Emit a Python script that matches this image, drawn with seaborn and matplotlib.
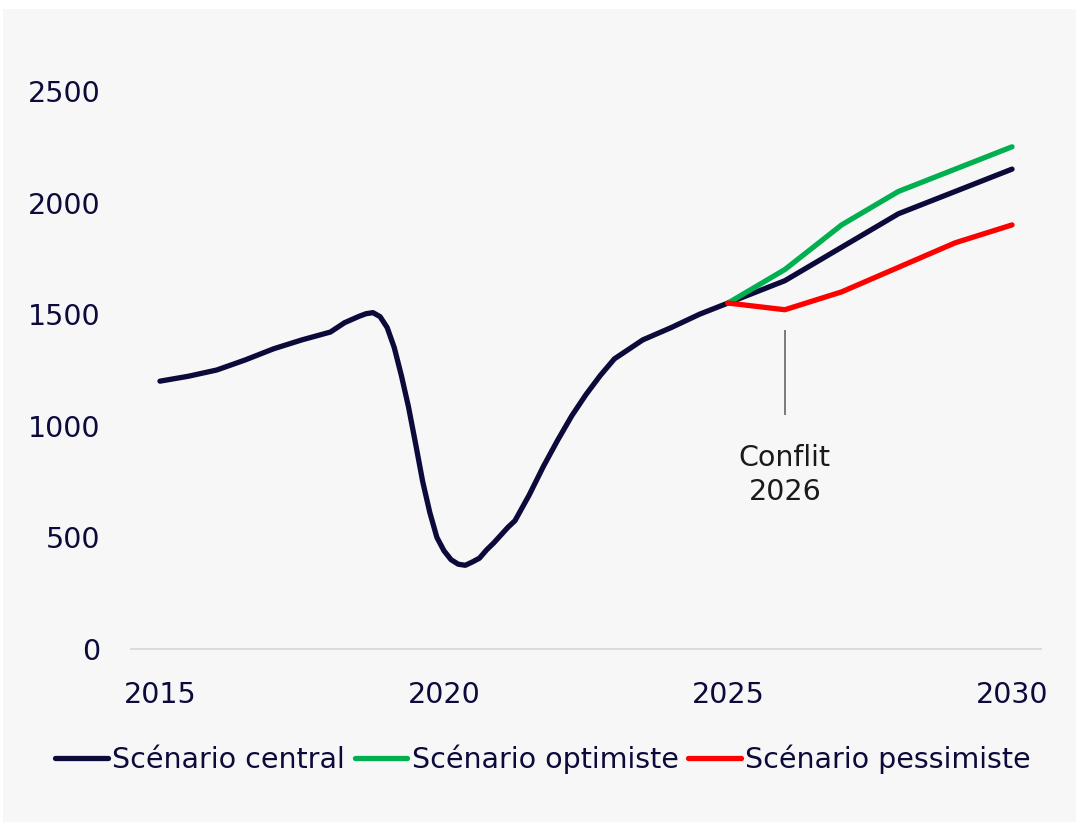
import pandas as pd
import seaborn as sns
import matplotlib.pyplot as plt
from matplotlib.patches import Rectangle

# valeurs
central_years = [2015, 2015.5, 2016, 2016.5, 2017, 2017.5, 2018, 2018.25, 2018.5, 2018.625,
                 2018.75, 2018.875, 2019, 2019.125, 2019.25, 2019.375, 2019.5, 2019.625,
                 2019.75, 2019.875, 2020, 2020.125, 2020.25, 2020.375, 2020.5, 2020.625,
                 2020.75, 2020.875, 2021, 2021.125, 2021.25, 2021.5, 2021.75, 2022,
                 2022.25, 2022.5, 2022.75, 2023, 2023.5, 2024, 2024.5,
                 2025, 2026, 2027, 2028, 2029, 2030]
central_values = [1200, 1222, 1250, 1295, 1345, 1385, 1420, 1462, 1490, 1502,
                  1507, 1489, 1440, 1350, 1225, 1085, 920, 750,
                  612, 500, 440, 400, 380, 375, 390, 407,
                  444, 475, 510, 545, 575, 690, 818, 935,
                  1045, 1140, 1225, 1300, 1385, 1440, 1500,
                  1550, 1650, 1800, 1950, 2050, 2150]

scenario_years = [2025, 2026, 2027, 2028, 2029, 2030]
optimiste_values = [1550, 1700, 1900, 2050, 2150, 2250]
pessimiste_values = [1550, 1520, 1600, 1710, 1820, 1900]

labels = ["Scénario central", "Scénario optimiste", "Scénario pessimiste"]
colors = ["#0b0a3b", "#00b050", "#ff0000"]

conflict_year = 2026
conflict_line = (1050, 1430)
conflict_text = "Conflit\n2026"

x_ticks = [2015, 2020, 2025, 2030]
y_ticks = [0, 500, 1000, 1500, 2000, 2500]

df = pd.concat([
    pd.DataFrame({"annee": central_years, "valeur": central_values, "scenario": labels[0]}),
    pd.DataFrame({"annee": scenario_years, "valeur": optimiste_values, "scenario": labels[1]}),
    pd.DataFrame({"annee": scenario_years, "valeur": pessimiste_values, "scenario": labels[2]}),
])

sns.set_style("white")
plt.rcParams["font.family"] = ["DejaVu Sans"]

navy = "#0b0a3b"
bg = "#f7f7f7"
fs = 20.5

fig = plt.figure(figsize=(10.76, 8.22), dpi=100, facecolor="white")
fig.patches.append(Rectangle((3 / 1076, 0), 1, 1 - 9 / 822, transform=fig.transFigure,
                             facecolor=bg, edgecolor="none", zorder=-10))
ax = fig.add_axes([131 / 1076, 1 - 649 / 822, 910 / 1076, 558 / 822])
ax.set_facecolor("none")

sns.lineplot(data=df, x="annee", y="valeur", hue="scenario", hue_order=labels,
             palette=colors, estimator=None, sort=True, linewidth=3.8, ax=ax)
for line in ax.get_lines():
    line.set_solid_capstyle("round")
    line.set_solid_joinstyle("round")

ax.vlines(conflict_year, *conflict_line, color="#595959", linewidth=1.1)
ax.text(conflict_year, 780, conflict_text, ha="center", va="center",
        fontsize=fs, color="#1a1a1a", linespacing=1.25)

ax.set_xlim(2014.49, 2030.51)
ax.set_ylim(0, 2500)
ax.set_xticks(x_ticks)
ax.set_yticks(y_ticks)
ax.set_xlabel("")
ax.set_ylabel("")
ax.tick_params(axis="both", length=0, labelsize=fs, labelcolor=navy)
ax.tick_params(axis="y", pad=22)
ax.tick_params(axis="x", pad=23)

for s in ["left", "right", "top"]:
    ax.spines[s].set_visible(False)
ax.spines["bottom"].set_color("#d9d9d9")
ax.spines["bottom"].set_linewidth(1.3)

handles, labs = ax.get_legend_handles_labels()
leg = ax.legend(handles, labs, loc="center", bbox_to_anchor=(543 / 1076, 1 - 759 / 822),
                bbox_transform=fig.transFigure, ncol=3, frameon=False, fontsize=fs,
                handlelength=1.85, handletextpad=0.15, columnspacing=0.35, borderaxespad=0)
for t in leg.get_texts():
    t.set_color(navy)
for h in leg.get_lines():
    h.set_linewidth(3.8)
    h.set_solid_capstyle("round")

fig.savefig("out.png", dpi=100, facecolor=fig.get_facecolor())
